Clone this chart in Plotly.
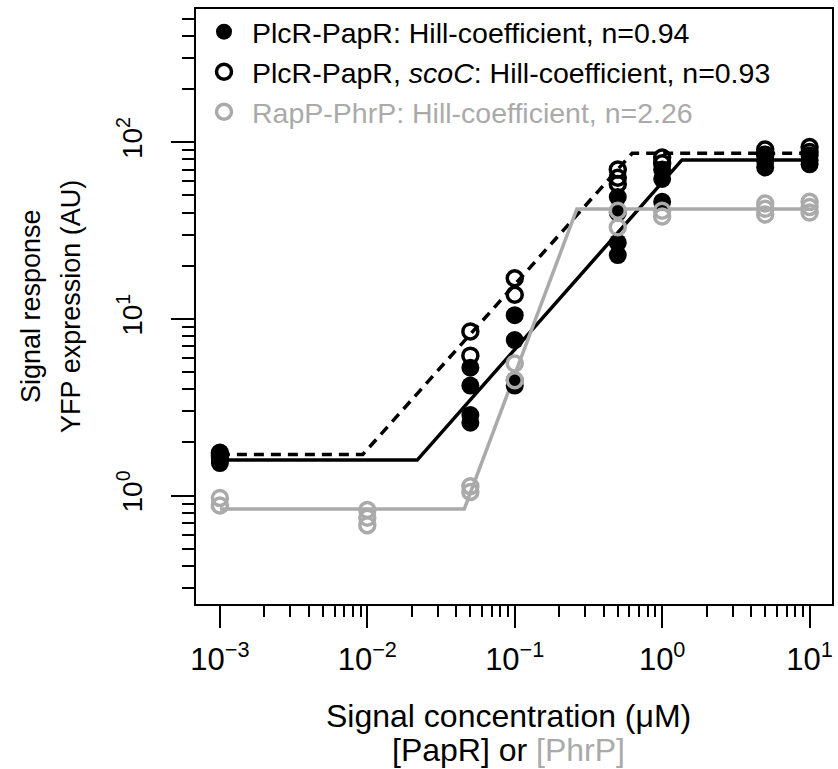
import plotly.graph_objects as go

# ---- data ----
# PlcR-PapR (filled black)
plcr_conc = [0.001, 0.001, 0.001, 0.05, 0.05, 0.05, 0.05, 0.1, 0.1, 0.1, 0.1,
             0.5, 0.5, 0.5, 0.5, 1, 1, 1, 5, 5, 5, 10, 10, 10]
plcr_resp = [1.72, 1.62, 1.53, 5.3, 4.2, 2.86, 2.59, 10.5, 7.6, 4.5, 4.2,
             49, 40, 27, 23, 70, 62, 46, 85, 78, 72, 84, 79, 75]
# PlcR-PapR, scoC (open black)
scoc_conc = [0.001, 0.001, 0.05, 0.05, 0.1, 0.1, 0.5, 0.5, 0.5, 1, 1, 5, 5, 10, 10]
scoc_resp = [1.75, 1.68, 8.5, 6.2, 17.0, 13.7, 70, 63, 58, 82, 76, 91, 85, 94, 88]
# RapP-PhrP (open grey)
rapp_conc = [0.001, 0.001, 0.01, 0.01, 0.01, 0.05, 0.05, 0.1, 0.1, 0.5, 0.5,
             1, 1, 5, 5, 5, 10, 10, 10]
rapp_resp = [0.97, 0.88, 0.83, 0.75, 0.68, 1.13, 1.05, 5.6, 4.5, 41, 33,
             41, 38, 45, 42, 39, 46, 43, 40]

# fitted Hill curves (break points, log-log piecewise)
plcr_fit_x = [0.001, 0.0218, 1.363, 10]
plcr_fit_y = [1.59, 1.59, 79.4, 79.4]
scoc_fit_x = [0.001, 0.00932, 0.626, 10]
scoc_fit_y = [1.71, 1.71, 86.6, 86.6]
rapp_fit_x = [0.001, 0.0455, 0.264, 10]
rapp_fit_y = [0.841, 0.841, 41.9, 41.9]

x_major = [0.001, 0.01, 0.1, 1, 10]
x_major_text = ["10<sup>−3</sup>", "10<sup>−2</sup>", "10<sup>−1</sup>",
                "10<sup>0</sup>", "10<sup>1</sup>"]
y_major = [1, 10, 100]
y_major_text = ["10<sup>0</sup>", "10<sup>1</sup>", "10<sup>2</sup>"]

legend_names = ["PlcR-PapR: Hill-coefficient, n=0.94",
                "PlcR-PapR, <i>scoC</i>: Hill-coefficient, n=0.93",
                "RapP-PhrP: Hill-coefficient, n=2.26"]
x_title_lines = ["Signal concentration (μM)", "[PapR] or <span style='color:#aaaaaa'>[PhrP]</span>"]
y_title_lines = ["Signal response", "YFP expression (AU)"]

GREY = "#aaaaaa"
FONT = "Liberation Sans, Arial, sans-serif"

x_minor = [m * d for d in [0.001, 0.01, 0.1, 1] for m in range(2, 10)]
y_minor = [m * 0.1 for m in range(3, 10)] + [m * d for d in [1, 10] for m in range(2, 10)] + \
          [m * 100 for m in range(2, 6)]

fig = go.Figure()

# fitted lines (no legend)
fig.add_trace(go.Scatter(x=plcr_fit_x, y=plcr_fit_y, mode="lines",
                         line=dict(color="black", width=3.5), showlegend=False))
fig.add_trace(go.Scatter(x=scoc_fit_x, y=scoc_fit_y, mode="lines",
                         line=dict(color="black", width=3.5, dash="10px,7px"), showlegend=False))
fig.add_trace(go.Scatter(x=rapp_fit_x, y=rapp_fit_y, mode="lines",
                         line=dict(color=GREY, width=3.5), showlegend=False))

# points
fig.add_trace(go.Scatter(x=plcr_conc, y=plcr_resp, mode="markers",
                         name=legend_names[0],
                         marker=dict(symbol="circle", size=18, color="black",
                                     line=dict(width=0))))
fig.add_trace(go.Scatter(x=scoc_conc, y=scoc_resp, mode="markers",
                         name=legend_names[1],
                         marker=dict(symbol="circle-open", size=15, color="black",
                                     line=dict(width=3.5, color="black"))))
fig.add_trace(go.Scatter(x=rapp_conc, y=rapp_resp, mode="markers",
                         name="<span style='color:%s'>%s</span>" % (GREY, legend_names[2]),
                         marker=dict(symbol="circle-open", size=15, color=GREY,
                                     line=dict(width=3.5, color=GREY))))

annotations = [
    dict(text=x_title_lines[0], xref="paper", yref="paper", x=0.4906, y=-0.1882,
         xanchor="center", yanchor="middle", showarrow=False, font=dict(size=32, family=FONT)),
    dict(text=x_title_lines[1], xref="paper", yref="paper", x=0.4906, y=-0.2454,
         xanchor="center", yanchor="middle", showarrow=False, font=dict(size=32, family=FONT)),
    dict(text=y_title_lines[0], xref="paper", yref="paper", x=-0.2602, y=0.5,
         xanchor="center", yanchor="middle", textangle=-90, showarrow=False,
         font=dict(size=27, family=FONT)),
    dict(text=y_title_lines[1], xref="paper", yref="paper", x=-0.1975, y=0.5,
         xanchor="center", yanchor="middle", textangle=-90, showarrow=False,
         font=dict(size=27, family=FONT)),
]

fig.update_layout(
    width=838, height=769,
    margin=dict(l=196, r=4, t=9, b=165),
    paper_bgcolor="white", plot_bgcolor="white",
    font=dict(family=FONT, color="black", size=28),
    showlegend=True,
    legend=dict(x=0.0, y=1.004, xanchor="left", yanchor="top",
                bgcolor="rgba(0,0,0,0)", borderwidth=0,
                font=dict(size=28.5, family=FONT, color="black"),
                itemsizing="trace", itemwidth=46, tracegroupgap=0),
    annotations=annotations,
    xaxis=dict(type="log", range=[-3.162, 1.152],
               tickmode="array", tickvals=x_major, ticktext=x_major_text,
               ticks="outside", ticklen=22, tickwidth=2, tickcolor="black",
               ticklabelstandoff=5,
               showline=True, linecolor="black", linewidth=2, mirror=True,
               showgrid=False, zeroline=False,
               tickfont=dict(size=31, family=FONT),
               minor=dict(tickmode="array", tickvals=x_minor, ticks="outside",
                          ticklen=11, tickwidth=2, tickcolor="black", showgrid=False)),
    yaxis=dict(type="log", range=[-0.613, 2.754],
               tickmode="array", tickvals=y_major, ticktext=y_major_text,
               ticks="outside", ticklen=23, tickwidth=2, tickcolor="black",
               tickangle=-90, ticklabelstandoff=18,
               showline=True, linecolor="black", linewidth=2, mirror=True,
               showgrid=False, zeroline=False,
               tickfont=dict(size=28, family=FONT),
               minor=dict(tickmode="array", tickvals=y_minor, ticks="outside",
                          ticklen=12, tickwidth=2, tickcolor="black", showgrid=False)),
)

fig.write_html("out.html")
